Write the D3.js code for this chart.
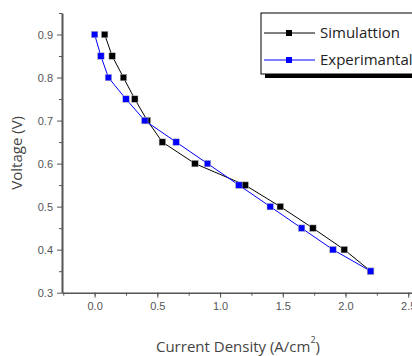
<!DOCTYPE html>
<html>
<head>
<meta charset="utf-8">
<script src="https://cdn.jsdelivr.net/npm/d3@7"></script>
<style>
  body { margin: 0; background: #fff; }
  svg { display: block; font-family: "Open Sans", "DejaVu Sans", sans-serif; }
  .axis text { fill: #555; font-size: 11px; }
  .axis path, .axis line { stroke: #555; }
</style>
</head>
<body>
<svg id="chart" width="412" height="356"></svg>
<script>
// current density (A/cm2) vs voltage (V)
var simX = [0.08, 0.14, 0.23, 0.32, 0.42, 0.54, 0.80, 1.20, 1.48, 1.74, 1.99, 2.20];
var simY = [0.90, 0.85, 0.80, 0.75, 0.70, 0.65, 0.60, 0.55, 0.50, 0.45, 0.40, 0.35];
var expX = [0.00, 0.05, 0.11, 0.25, 0.40, 0.65, 0.90, 1.15, 1.40, 1.65, 1.90, 2.20];
var expY = [0.90, 0.85, 0.80, 0.75, 0.70, 0.65, 0.60, 0.55, 0.50, 0.45, 0.40, 0.35];
var seriesNames = ["Simulattion", "Experimantal"];
var seriesColors = ["#000000", "#0000ff"];
var xTicks = [0, 0.5, 1.0, 1.5, 2.0, 2.5];
var yTicks = [0.3, 0.4, 0.5, 0.6, 0.7, 0.8, 0.9];

var svg = d3.select("#chart");

var x = d3.scaleLinear().domain([-0.26, 2.53]).range([62, 412]);
var y = d3.scaleLinear().domain([0.3, 0.95]).range([292.7, 13]);

// minor ticks first
svg.append("g")
    .attr("class", "axis")
    .attr("transform", "translate(0," + y(0.3) + ")")
    .call(d3.axisBottom(x).tickValues(d3.range(-0.25, 2.51, 0.25)).tickSize(3).tickFormat(""))
    .call(function(g) { g.select(".domain").remove(); });

svg.append("g")
    .attr("class", "axis")
    .attr("transform", "translate(" + x(-0.26) + ",0)")
    .call(d3.axisLeft(y).tickValues(d3.range(0.35, 0.96, 0.1)).tickSize(3).tickFormat(""))
    .call(function(g) { g.select(".domain").remove(); });

var xAxis = svg.append("g")
    .attr("class", "axis")
    .attr("transform", "translate(0," + y(0.3) + ")")
    .call(d3.axisBottom(x).tickValues(xTicks).tickSize(5).tickSizeOuter(0).tickPadding(5).tickFormat(d3.format(".1f")));
xAxis.select(".domain").attr("stroke", "#333").attr("stroke-width", 1.5);

var yAxis = svg.append("g")
    .attr("class", "axis")
    .attr("transform", "translate(" + x(-0.26) + ",0)")
    .call(d3.axisLeft(y).tickValues(yTicks).tickSize(5).tickSizeOuter(0).tickPadding(4).tickFormat(d3.format(".1f")));
yAxis.select(".domain").attr("stroke", "#666").attr("stroke-width", 2);

// axis titles
svg.append("text")
    .attr("transform", "translate(22," + y(0.625) + ") rotate(-90)")
    .attr("text-anchor", "middle")
    .attr("fill", "#444")
    .style("font-size", "15px")
    .text("Voltage (V)");

var xt = svg.append("text")
    .attr("x", 238)
    .attr("y", 352)
    .attr("text-anchor", "middle")
    .attr("fill", "#444")
    .style("font-size", "15px");
xt.append("tspan").text("Current Density (A/cm");
xt.append("tspan").attr("dy", -9).style("font-size", "9px").text("2");
xt.append("tspan").attr("dy", 9).text(")");

var series = [
  { name: seriesNames[0], color: seriesColors[0], pts: d3.zip(simX, simY) },
  { name: seriesNames[1], color: seriesColors[1], pts: d3.zip(expX, expY) }
];

var line = d3.line()
    .x(function(d) { return x(d[0]); })
    .y(function(d) { return y(d[1]); });

series.forEach(function(s) {
  svg.append("path")
      .datum(s.pts)
      .attr("fill", "none")
      .attr("stroke", s.color)
      .attr("stroke-width", 1)
      .attr("d", line);

  svg.selectAll(null)
      .data(s.pts)
    .enter().append("rect")
      .attr("x", function(d) { return x(d[0]) - 3.25; })
      .attr("y", function(d) { return y(d[1]) - 3.25; })
      .attr("width", 6.5)
      .attr("height", 6.5)
      .attr("fill", s.color)
      .attr("stroke", "#bbb")
      .attr("stroke-width", 0.5);
});

// legend
var legend = svg.append("g").attr("transform", "translate(261,13)");
legend.append("rect")
    .attr("x", 4).attr("y", 61).attr("width", 160).attr("height", 4)
    .attr("fill", "#000");
legend.append("rect")
    .attr("x", 0).attr("y", 0).attr("width", 160).attr("height", 61)
    .attr("fill", "#fff").attr("stroke", "#000").attr("stroke-width", 1);

series.forEach(function(s, i) {
  var ly = 20 + i * 27;
  legend.append("line")
      .attr("x1", 3).attr("x2", 54).attr("y1", ly).attr("y2", ly)
      .attr("stroke", s.color).attr("stroke-width", 1);
  legend.append("rect")
      .attr("x", 25).attr("y", ly - 3).attr("width", 6).attr("height", 6)
      .attr("fill", s.color);
  legend.append("text")
      .attr("x", 59).attr("y", ly + 5)
      .attr("fill", "#222")
      .style("font-size", "15px")
      .text(s.name);
});
</script>
</body>
</html>
